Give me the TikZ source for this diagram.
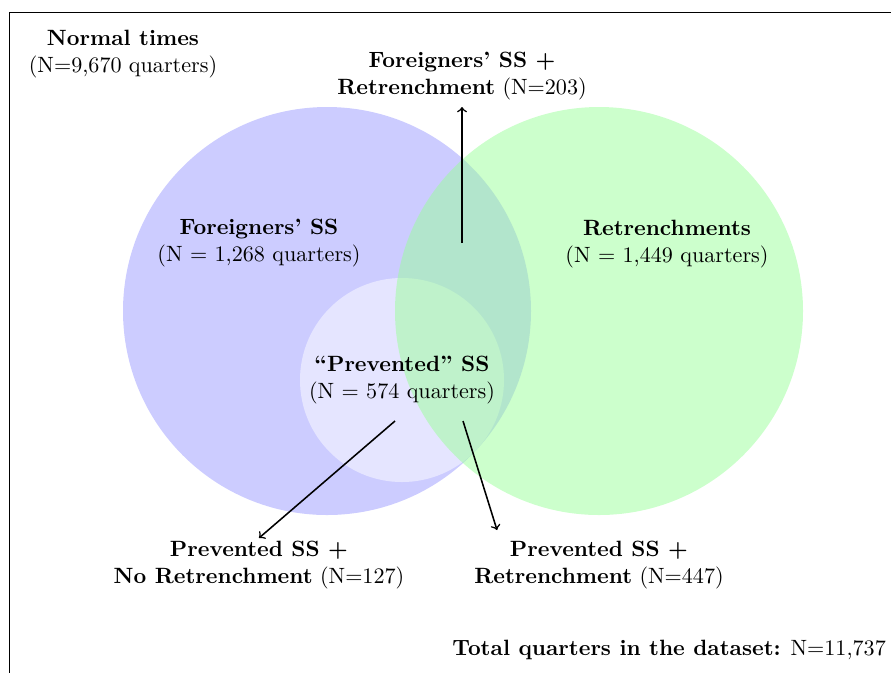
\documentclass[tikz,border=0pt]{standalone}
\begin{document}
\begin{tikzpicture}[x=0.452pt,y=-0.452pt,
  lbl/.style={align=center,inner sep=0pt},
  arr/.style={->,line width=0.7pt}]
\useasboundingbox (0,0) rectangle (891,673);
\draw (891,12) -- (9,12) -- (9,673);
\fill[blue!40,opacity=0.5] (327,311) circle[radius=204];
\fill[white,opacity=0.5] (402,380) circle[radius=102];
\fill[green!40,opacity=0.5] (599,311) circle[radius=204];
\node[lbl] (normal) at (123,54) {\textbf{Normal times}\\(N=9,670 quarters)};
\node[lbl] (fr) at (462,76) {\textbf{Foreigners' SS +}\\\textbf{Retrenchment} (N=203)};
\node[lbl] (fss) at (259,243) {\textbf{Foreigners' SS}\\(N = 1,268 quarters)};
\node[lbl] (ret) at (667,244) {\textbf{Retrenchments}\\(N = 1,449 quarters)};
\node[lbl] (prev) at (402,380) {\textbf{``Prevented'' SS}\\(N = 574 quarters)};
\node[lbl] (pnr) at (259,565) {\textbf{Prevented SS +}\\\textbf{No Retrenchment} (N=127)};
\node[lbl] (pr) at (599,565) {\textbf{Prevented SS +}\\\textbf{Retrenchment} (N=447)};
\node[inner sep=0pt,anchor=west] (total) at (452,650) {\textbf{Total quarters in the dataset:} N=11,737};
\coordinate (a1s) at (462,243);
\coordinate (a1e) at (462,107);
\coordinate (a2s) at (395,421);
\coordinate (a2e) at (259,538);
\coordinate (a3s) at (463,421);
\coordinate (a3e) at (497,530);
\draw[arr] (a1s) -- (a1e);
\draw[arr] (a2s) -- (a2e);
\draw[arr] (a3s) -- (a3e);
\end{tikzpicture}
\end{document}
